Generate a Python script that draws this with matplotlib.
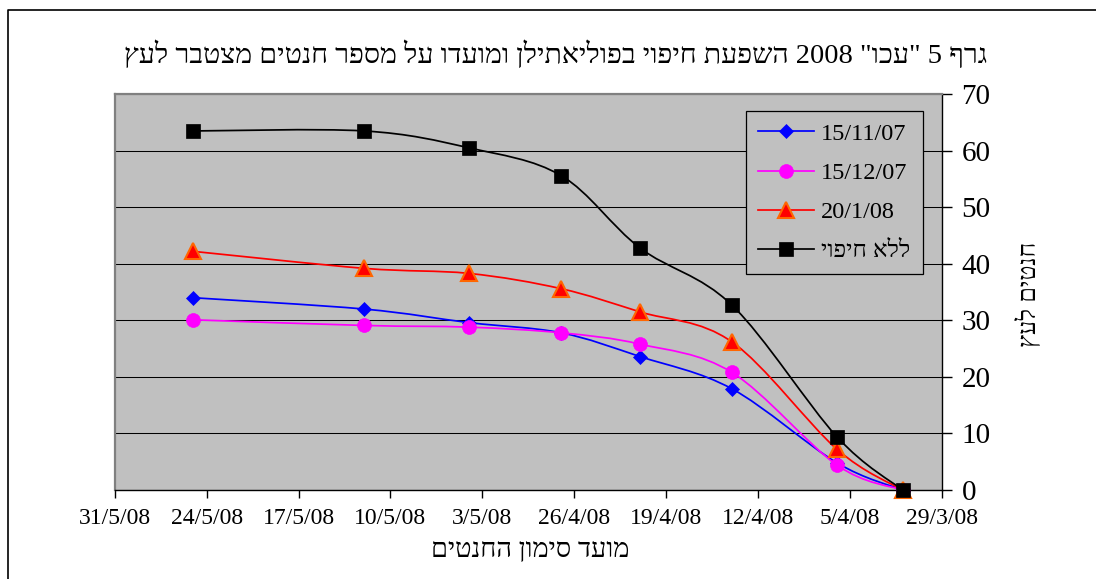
import re
import datetime as dt
import matplotlib
matplotlib.use("Agg")
import matplotlib.pyplot as plt
import matplotlib.dates as mdates
from matplotlib.path import Path
from matplotlib.patches import PathPatch
from matplotlib.lines import Line2D
from matplotlib.ticker import FixedLocator, FuncFormatter

# ---- data -------------------------------------------------------------
dates = ["2008-05-25", "2008-05-12", "2008-05-04", "2008-04-27",
         "2008-04-21", "2008-04-14", "2008-04-06", "2008-04-01"]

series_names = ["15/11/07", "15/12/07", "20/1/08", "ללא חיפוי"]
cover_15_11_07 = [34.0, 32.0, 29.6, 27.8, 23.6, 17.9, 4.8, 0]
cover_15_12_07 = [30.1, 29.1, 28.8, 27.8, 25.8, 20.8, 4.4, 0]
cover_20_1_08 = [42.2, 39.2, 38.3, 35.6, 31.5, 26.2, 7.2, 0]
no_cover = [63.5, 63.5, 60.5, 55.6, 42.8, 32.7, 9.4, 0]

title_text = 'גרף 5 "עכו" 2008 השפעת חיפוי בפוליאתילן ומועדו על מספר חנטים מצטבר לעץ'
xlabel_text = "מועד סימון החנטים"
ylabel_text = "חנטים לעץ"

x_start = "2008-05-31"
x_end = "2008-03-29"
y_ticks = [0, 10, 20, 30, 40, 50, 60, 70]


def visual(s):
    """Reorder right-to-left text for left-to-right glyph layout."""
    r = s[::-1]
    return re.sub(r"[0-9/.]+", lambda m: m.group(0)[::-1], r)


def smooth_path(xs, ys):
    """Cubic Bezier path through the points (Catmull-Rom style tangents)."""
    n = len(xs)
    pts = list(zip(xs, ys))
    verts = [pts[0]]
    codes = [Path.MOVETO]
    for i in range(n - 1):
        p0 = pts[i - 1] if i > 0 else pts[i]
        p1 = pts[i]
        p2 = pts[i + 1]
        p3 = pts[i + 2] if i + 2 < n else pts[i + 1]
        c1 = (p1[0] + (p2[0] - p0[0]) / 6.0, p1[1] + (p2[1] - p0[1]) / 6.0)
        c2 = (p2[0] - (p3[0] - p1[0]) / 6.0, p2[1] - (p3[1] - p1[1]) / 6.0)
        verts += [c1, c2, p2]
        codes += [Path.CURVE4] * 3
    return Path(verts, codes)


fonts = ["Liberation Serif", "DejaVu Serif", "DejaVu Sans"]
plt.rcParams["font.family"] = fonts

W, H = 1096, 579
fig = plt.figure(figsize=(W / 100, H / 100), dpi=100)
fig.patch.set_facecolor("white")

ax = fig.add_axes([114.7 / W, 1 - 490 / H, (942 - 114.7) / W, (490 - 94.2) / H])
ax.set_facecolor("#C0C0C0")

xnum = [mdates.date2num(dt.date.fromisoformat(d)) for d in dates]
x0 = mdates.date2num(dt.date.fromisoformat(x_start))
x1 = mdates.date2num(dt.date.fromisoformat(x_end))

styles = [
    dict(color="#0000FF", marker="D", ms=7.2, mfc="#0000FF", mec="#0000FF", mew=0.5),
    dict(color="#FF00FF", marker="o", ms=10, mfc="#FF00FF", mec="#FF00FF", mew=0.5),
    dict(color="#FF0000", marker="^", ms=11, mfc="#FF0000", mec="#FF6600", mew=1.5),
    dict(color="#000000", marker="s", ms=10, mfc="#000000", mec="#000000", mew=0.5),
]
all_series = [cover_15_11_07, cover_15_12_07, cover_20_1_08, no_cover]

handles = []
for k, (vals, st) in enumerate(zip(all_series, styles)):
    z = 3 + k
    ax.add_patch(PathPatch(smooth_path(xnum, vals), facecolor="none",
                           edgecolor=st["color"], lw=1.25, zorder=z))
    ax.plot(xnum, vals, linestyle="none", marker=st["marker"], ms=st["ms"],
            mfc=st["mfc"], mec=st["mec"], mew=st["mew"], zorder=z + 0.5,
            clip_on=False)
    handles.append(Line2D([], [], color=st["color"], lw=1.25, marker=st["marker"],
                          ms=st["ms"], mfc=st["mfc"], mec=st["mec"], mew=st["mew"]))

ax.set_xlim(x0, x1)
ax.set_ylim(0, 70)

# weekly date ticks
week_ticks = [x0 - 7 * i for i in range(10)]
ax.xaxis.set_major_locator(FixedLocator(week_ticks))


def date_fmt(v, pos):
    d = mdates.num2date(v)
    return f"{d.day}/{d.month}/{d.strftime('%y')}"


ax.xaxis.set_major_formatter(FuncFormatter(date_fmt))
ax.tick_params(axis="x", direction="out", length=6, width=1, pad=7,
               labelsize=17, colors="black")

ax.yaxis.tick_right()
ax.yaxis.set_label_position("right")
ax.set_yticks(y_ticks)
ax.tick_params(axis="y", direction="out", length=7, width=1, pad=7,
               labelsize=21, colors="black")

ax.yaxis.grid(True, color="black", lw=0.75)
ax.set_axisbelow(True)

for side in ["left", "top"]:
    ax.spines[side].set_color("#808080")
    ax.spines[side].set_linewidth(1.6)
for side in ["right", "bottom"]:
    ax.spines[side].set_color("black")
    ax.spines[side].set_linewidth(1.0)

leg = ax.legend(handles, [visual(n) if not n[0].isdigit() else n for n in series_names],
                loc="upper right", bbox_to_anchor=(0.9767, 0.958),
                borderaxespad=0, fontsize=17.5, frameon=True, fancybox=False,
                facecolor="#C0C0C0", edgecolor="black", framealpha=1,
                handlelength=2.3, handletextpad=0.3, labelspacing=0.7,
                borderpad=0.5)
leg.get_frame().set_linewidth(0.9)
leg.set_zorder(20)

fig.text(556 / W, 1 - 55 / H, visual(title_text), ha="center", va="center",
         fontsize=20.5, color="black")
fig.text(530 / W, 1 - 551 / H, visual(xlabel_text), ha="center", va="center",
         fontsize=19.5, color="black")
fig.text(1028 / W, 1 - 294 / H, visual(ylabel_text), ha="center", va="center",
         rotation=90, fontsize=18, color="black")

# outer chart frame (top and left edges)
fig.add_artist(Line2D([8 / W, 8 / W, 1.0], [0.0, 1 - 10 / H, 1 - 10 / H],
                      transform=fig.transFigure, color="black", lw=1.2))

fig.savefig("out.png", dpi=100, facecolor="white")
